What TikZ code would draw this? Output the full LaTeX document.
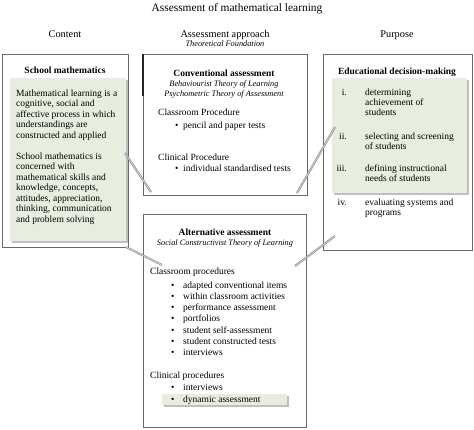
\documentclass[tikz,border=0pt]{standalone}
\usepackage{fontspec}
\setmainfont{Liberation Serif}
\definecolor{sage}{RGB}{231,238,224}
\definecolor{boxline}{RGB}{105,105,105}
\begin{document}
\begin{tikzpicture}[x=1pt,y=-1pt,
  outerbox/.style={draw=boxline, line width=0.8pt, fill=white},
  greenbox/.style={fill=sage},
  shadowbox/.style={fill=black!25},
  link/.style={draw=black!50, line width=0.6pt, double=black!15, double distance=0.8pt},
  body/.style={font=\fontsize{9.5}{10.5}\selectfont, inner sep=0pt, align=left},
  head/.style={font=\bfseries\fontsize{9.5}{10.5}\selectfont, inner sep=0pt},
  ital/.style={font=\itshape\fontsize{8.3}{10}\selectfont, inner sep=0pt, align=center},
  colhead/.style={font=\fontsize{10.3}{12}\selectfont, inner sep=0pt},
  titlestyle/.style={font=\fontsize{11.4}{13}\selectfont, inner sep=0pt}]
\useasboundingbox (0,0) rectangle (474,429);

% outer boxes
\draw[outerbox] (2,54) rectangle (128,247);
\draw[outerbox] (143,54) rectangle (307,195);
\draw[black!85, line width=1.3pt] (143,54) -- (143,96);
\draw[outerbox] (143,214) rectangle (306,427);
\draw[outerbox] (323,54) rectangle (472,250);

% green highlight boxes with shadows
\fill[shadowbox] (11.5,80) rectangle (127.5,243);
\fill[greenbox] (10,78) rectangle (126,241);
\fill[shadowbox] (333.5,80) rectangle (468.5,195);
\fill[greenbox] (332,78) rectangle (467,193);
\fill[shadowbox] (163.5,396) rectangle (288.5,407);
\fill[greenbox] (162,394) rectangle (287,405);

% connector end points
\coordinate (c1a) at (125,153);
\coordinate (c1b) at (151,192);
\coordinate (c2a) at (126,247);
\coordinate (c2b) at (162,265);
\coordinate (c3a) at (297,193);
\coordinate (c3b) at (335,127);
\coordinate (c4a) at (295,266);
\coordinate (c4b) at (335,236);
\draw[link] (c1a) -- (c1b);
\draw[link] (c2a) -- (c2b);
\draw[link] (c3a) -- (c3b);
\draw[link] (c4a) -- (c4b);

% titles
\node[titlestyle, anchor=base] (title) at (237,11) {Assessment of mathematical learning};
\node[colhead, anchor=base] (hcontent) at (65,37) {Content};
\node[colhead, anchor=base] (happroach) at (225,37) {Assessment approach};
\node[ital, anchor=base] (hfound) at (225,46) {Theoretical Foundation};
\node[colhead, anchor=base] (hpurpose) at (397,37) {Purpose};

% content box
\node[head, anchor=base] (smhead) at (65,73) {School mathematics};
\node[body, anchor=base west] (sm1) at (16,96) {Mathematical learning is a};
\node[body, anchor=base west] (sm2) at (16,106.5) {cognitive, social and};
\node[body, anchor=base west] (sm3) at (16,117) {affective process in which};
\node[body, anchor=base west] (sm4) at (16,127.5) {understandings are};
\node[body, anchor=base west] (sm5) at (16,138) {constructed and applied};
\node[body, anchor=base west] (sm6) at (16,159) {School mathematics is};
\node[body, anchor=base west] (sm7) at (16,169.5) {concerned with};
\node[body, anchor=base west] (sm8) at (16,180) {mathematical skills and};
\node[body, anchor=base west] (sm9) at (16,190.5) {knowledge, concepts,};
\node[body, anchor=base west] (sm10) at (16,201) {attitudes, appreciation,};
\node[body, anchor=base west] (sm11) at (16,211.5) {thinking, communication};
\node[body, anchor=base west] (sm12) at (16,222) {and problem solving};

% conventional assessment box
\node[head, anchor=base] (cahead) at (224,76) {Conventional assessment};
\node[ital, anchor=base] (ca1) at (224,86) {Behaviourist Theory of Learning};
\node[ital, anchor=base] (ca2) at (224,96) {Psychometric Theory of Assessment};
\node[body, anchor=base west] (ca3) at (158,115) {Classroom Procedure};
\node[body, anchor=base west] (ca4) at (175,128) {\makebox[8pt][l]{\textbullet}pencil and paper tests};
\node[body, anchor=base west] (ca5) at (158,160) {Clinical Procedure};
\node[body, anchor=base west] (ca6) at (175,171) {\makebox[8pt][l]{\textbullet}individual standardised tests};

% alternative assessment box
\node[head, anchor=base] (aahead) at (225,235) {Alternative assessment};
\node[ital, anchor=base] (aa1) at (225,245) {Social Constructivist Theory of Learning};
\node[body, anchor=base west] (aa2) at (150,274) {Classroom procedures};
\node[body, anchor=base west] (aa3) at (171,288) {\makebox[12pt][l]{\textbullet}adapted conventional items};
\node[body, anchor=base west] (aa4) at (171,299.3) {\makebox[12pt][l]{\textbullet}within classroom activities};
\node[body, anchor=base west] (aa5) at (171,310.6) {\makebox[12pt][l]{\textbullet}performance assessment};
\node[body, anchor=base west] (aa6) at (171,321.9) {\makebox[12pt][l]{\textbullet}portfolios};
\node[body, anchor=base west] (aa7) at (171,333.2) {\makebox[12pt][l]{\textbullet}student self-assessment};
\node[body, anchor=base west] (aa8) at (171,344.5) {\makebox[12pt][l]{\textbullet}student constructed tests};
\node[body, anchor=base west] (aa9) at (171,355.8) {\makebox[12pt][l]{\textbullet}interviews};
\node[body, anchor=base west] (aa10) at (150,378) {Clinical procedures};
\node[body, anchor=base west] (aa11) at (171,390) {\makebox[12pt][l]{\textbullet}interviews};
\node[body, anchor=base west] (aa12) at (171,402) {\makebox[12pt][l]{\textbullet}dynamic assessment};

% purpose box
\node[head, anchor=base] (pphead) at (397,74) {Educational decision-making};
\node[body, anchor=base east] (pl1) at (347,95) {i.};
\node[body, anchor=base west] (pt1a) at (365,95) {determining};
\node[body, anchor=base west] (pt1b) at (365,105) {achievement of};
\node[body, anchor=base west] (pt1c) at (365,115) {students};
\node[body, anchor=base east] (pl2) at (347,139) {ii.};
\node[body, anchor=base west] (pt2a) at (365,139) {selecting and screening};
\node[body, anchor=base west] (pt2b) at (365,149) {of students};
\node[body, anchor=base east] (pl3) at (347,171) {iii.};
\node[body, anchor=base west] (pt3a) at (365,171) {defining instructional};
\node[body, anchor=base west] (pt3b) at (365,181) {needs of students};
\node[body, anchor=base east] (pl4) at (347,205) {iv.};
\node[body, anchor=base west] (pt4a) at (365,205) {evaluating systems and};
\node[body, anchor=base west] (pt4b) at (365,215) {programs};
\end{tikzpicture}
\end{document}
